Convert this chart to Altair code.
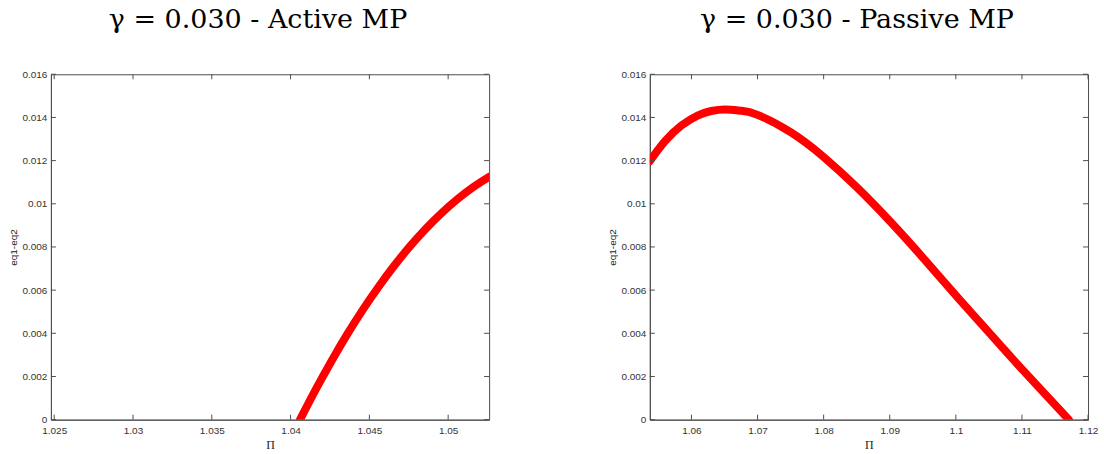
import altair as alt
import pandas as pd

# ---- data ----
LEFT_PI = [1.0406, 1.0416, 1.0426, 1.0436, 1.0446, 1.0456, 1.0466, 1.0476,
           1.0486, 1.0496, 1.0506, 1.0516, 1.0526]
LEFT_DIFF = [0.0, 0.00140, 0.00272, 0.00396, 0.00511, 0.00617, 0.00715, 0.00805,
             0.00886, 0.00958, 0.01022, 0.01078, 0.01125]

RIGHT_PI = [1.0537, 1.0560, 1.0585, 1.0610, 1.0630, 1.0651, 1.0675, 1.0700,
            1.0750, 1.0800, 1.0850, 1.0900, 1.0950, 1.1000, 1.1050, 1.1100, 1.1171]
RIGHT_DIFF = [0.01198, 0.0129, 0.01363, 0.0141, 0.0143, 0.01437, 0.01431, 0.01412,
              0.01332, 0.01217, 0.01077, 0.00920, 0.00751, 0.00576, 0.00404,
              0.00234, 0.0]

LEFT_XTICKS = [1.025, 1.03, 1.035, 1.04, 1.045, 1.05]
RIGHT_XTICKS = [1.06, 1.07, 1.08, 1.09, 1.1, 1.11, 1.12]
YTICKS = [0, 0.002, 0.004, 0.006, 0.008, 0.01, 0.012, 0.014, 0.016]
LEFT_XDOMAIN = [1.02479, 1.0526]
RIGHT_XDOMAIN = [1.0537, 1.12]
YDOMAIN = [0, 0.016]
TITLES = ["\u03b3 = 0.030 - Active MP", "\u03b3 = 0.030 - Passive MP"]

W, H = 439, 346
AXIS_COLOR = "#4d4d4d"
LABEL_COLOR = "#333333"
TICK = 5


def panel(pi, diff, xticks, xdomain, xfmt, title):
    xs = alt.Scale(domain=xdomain, nice=False, zero=False)
    ys = alt.Scale(domain=YDOMAIN, nice=False, zero=False)
    xaxis = alt.Axis(
        values=xticks, format=xfmt, title="\u03a0", ticks=False,
        domainColor=AXIS_COLOR, labelColor=LABEL_COLOR, labelFont="Liberation Sans",
        labelFontSize=10, labelPadding=6, labelFlush=False, labelOverlap=False,
        grid=False, titleFont="Liberation Serif", titleFontSize=12,
        titleFontWeight="normal", titleColor="#222222", titlePadding=4)
    yaxis = alt.Axis(
        values=YTICKS, format=".3~f", title="eq1-eq2", ticks=False,
        domainColor=AXIS_COLOR, labelColor=LABEL_COLOR, labelFont="Liberation Sans",
        labelFontSize=10, labelPadding=4, labelFlush=False, labelOverlap=False,
        grid=False, titleFont="Liberation Sans", titleFontSize=10,
        titleFontWeight="normal", titleColor="#222222", titlePadding=3)

    curve = alt.Chart(pd.DataFrame({"pi": pi, "d": diff})).mark_line(
        color="#ff0000", strokeWidth=8, interpolate="natural", clip=True,
        strokeCap="round", strokeJoin="round",
    ).encode(
        x=alt.X("pi:Q", scale=xs, axis=xaxis),
        y=alt.Y("d:Q", scale=ys, axis=yaxis),
    )
    xt = pd.DataFrame({"pi": xticks})
    yt = pd.DataFrame({"d": YTICKS})
    bottom = alt.Chart(xt).mark_rule(color=AXIS_COLOR).encode(
        x=alt.X("pi:Q", scale=xs, axis=xaxis), y=alt.value(H), y2=alt.value(H - TICK))
    top = alt.Chart(xt).mark_rule(color=AXIS_COLOR).encode(
        x=alt.X("pi:Q", scale=xs, axis=xaxis), y=alt.value(0), y2=alt.value(TICK))
    left = alt.Chart(yt).mark_rule(color=AXIS_COLOR).encode(
        y=alt.Y("d:Q", scale=ys, axis=yaxis), x=alt.value(0), x2=alt.value(TICK))
    right = alt.Chart(yt).mark_rule(color=AXIS_COLOR).encode(
        y=alt.Y("d:Q", scale=ys, axis=yaxis), x=alt.value(W), x2=alt.value(W - TICK))
    return alt.layer(curve, bottom, top, left, right).properties(
        width=W, height=H,
        title=alt.TitleParams(title, font="DejaVu Serif", fontSize=27,
                              fontWeight="normal", color="#000000", anchor="middle",
                              baseline="alphabetic", offset=14, dx=-12),
    )


chart = alt.hconcat(
    panel(LEFT_PI, LEFT_DIFF, LEFT_XTICKS, LEFT_XDOMAIN, ".4~f", TITLES[0]),
    panel(RIGHT_PI, RIGHT_DIFF, RIGHT_XTICKS, RIGHT_XDOMAIN, ".3~f", TITLES[1]),
    spacing=117,
).configure_view(stroke=AXIS_COLOR, strokeWidth=1).properties(
    padding={"left": 8, "top": 5, "right": 5, "bottom": 5},
    background="white",
)

chart.save("out.html", embed_options={"renderer": "svg", "actions": False})
